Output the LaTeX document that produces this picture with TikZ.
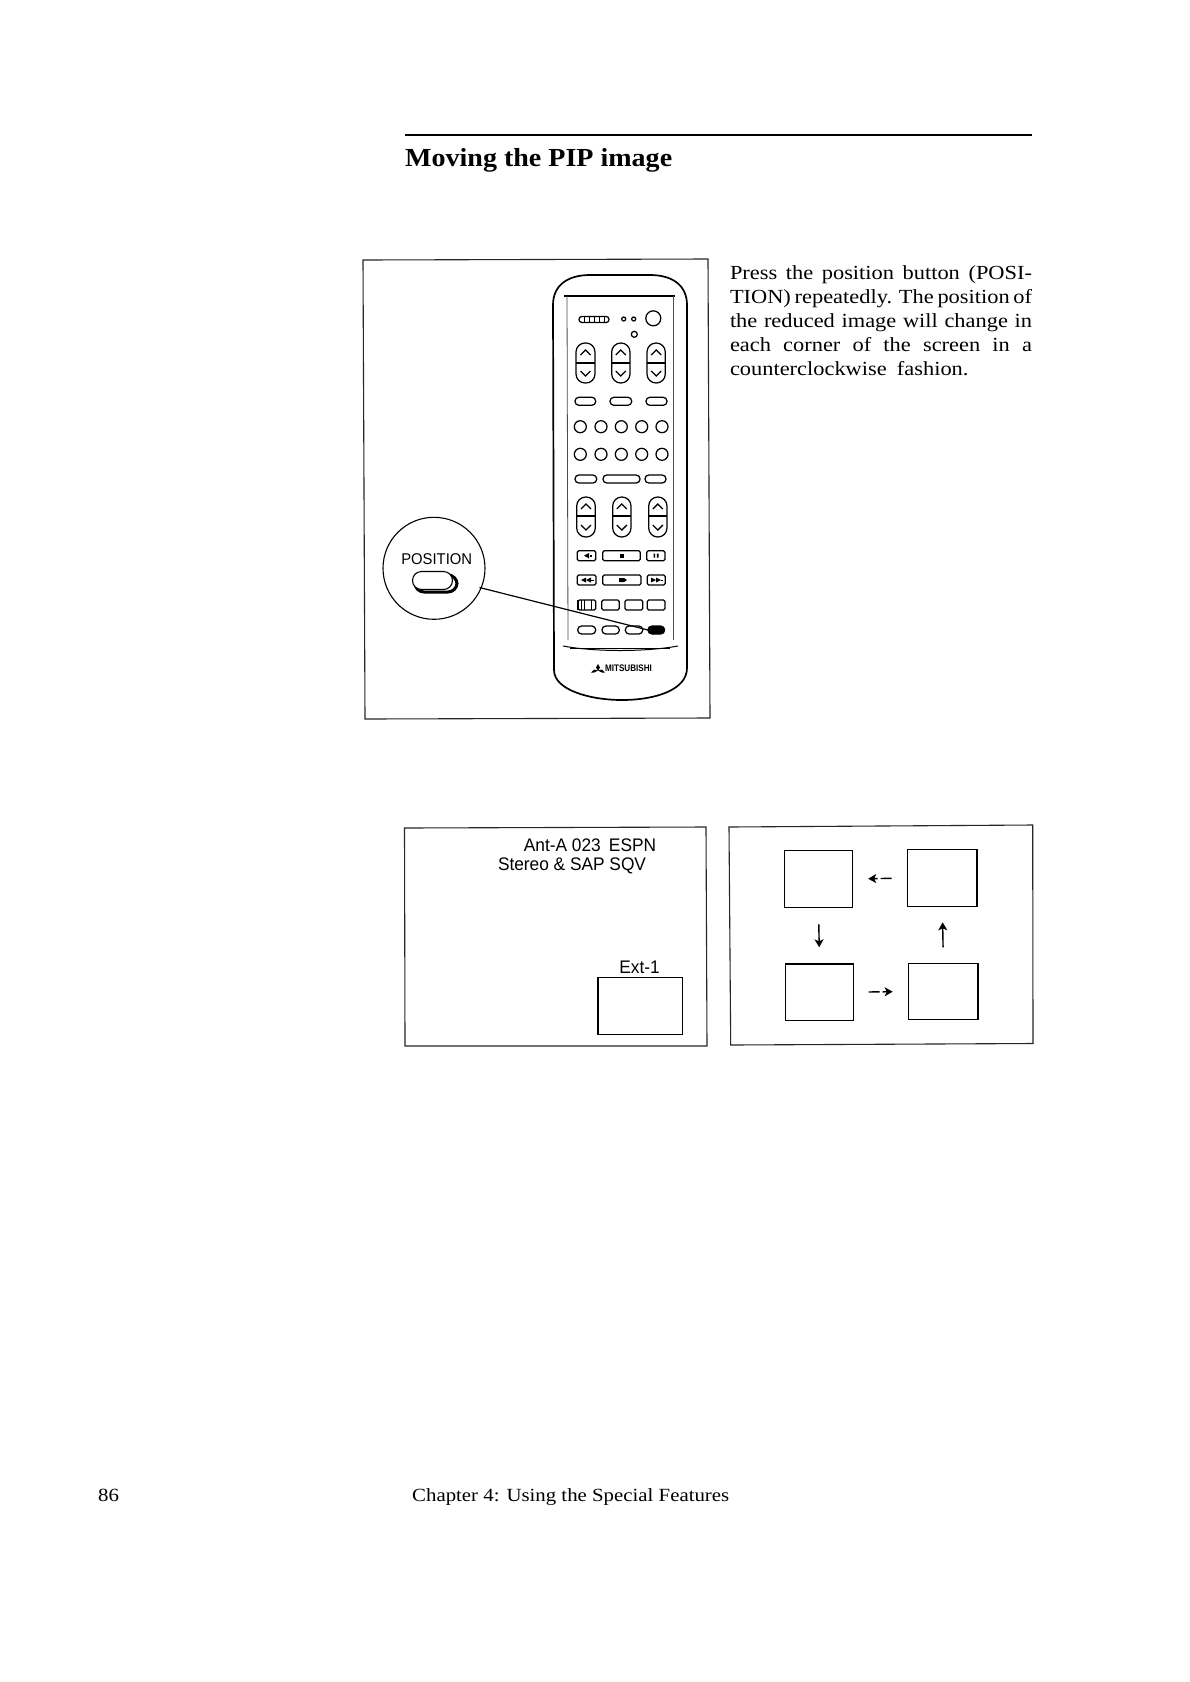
\documentclass[tikz,border=0pt]{standalone}
\usepackage{fontspec}
\setmainfont{Liberation Serif}
\newfontfamily\bodyfont[FakeStretch=1.12]{Liberation Serif}
\newfontfamily\titlefont[FakeStretch=1.078]{Liberation Serif}
\newfontfamily\sansf[FakeStretch=.95]{Liberation Sans}
\newcommand{\bx}[6][]{\node[pane,#1,minimum width={(#4-#2)*1pt},minimum height={(#5-#3)*1pt}] (#6) at ({(#2+#4)/2},{(#3+#5)/2}) {};}
\newcommand{\pill}[5][]{\draw[key,#1,rounded corners={#5/2*0.95}] ({#2},{#4-#5/2}) rectangle ({#3},{#4+#5/2});}
\newcommand{\sqkey}[4]{\draw[key,rounded corners=1.5] ({#1},{#3-#4/2}) rectangle ({#2},{#3+#4/2});}
\newcommand{\rocker}[5]{%
  \draw[key,rounded corners=9] (#1,#3) rectangle (#2,#4);
  \draw[line width=2.2pt] (#1,#5) -- (#2,#5);
  \draw[key] ({(#1+#2)/2-5},{#3+12}) -- ({(#1+#2)/2},{#3+7}) -- ({(#1+#2)/2+5},{#3+12});
  \draw[key] ({(#1+#2)/2-5},{#4-12}) -- ({(#1+#2)/2},{#4-7}) -- ({(#1+#2)/2+5},{#4-12});}
\usetikzlibrary{arrows.meta}
\tikzset{
  pane/.style={draw=black,line width=1.1pt,inner sep=0pt,outer sep=0pt,rectangle},
  frame/.style={draw=black!85,line width=1.1pt},
  key/.style={draw=black,line width=1.25pt},
  flow/.style={draw=black,line width=1.4pt,-{Stealth[length=8pt,width=9pt,inset=2pt]}},
  para/.style={anchor=base west,inner sep=0pt,outer sep=0pt,font=\bodyfont\fontsize{20}{24}\selectfont},
  sanslabel/.style={inner sep=0pt,outer sep=0pt,font=\sansf\fontsize{18.2}{22}\selectfont}
}
\begin{document}
\begin{tikzpicture}[x=1pt,y=-1pt]
\useasboundingbox[fill=white] (0,0) rectangle (1190,1682);
% heading
\coordinate (ruleL) at (405,135);
\coordinate (ruleR) at (1032,135);
\draw[line width=2pt] (ruleL) -- (ruleR);
\node[anchor=base west,inner sep=0pt,font=\titlefont\bfseries\fontsize{26}{30}\selectfont] (title) at (405,166) {Moving the PIP image};
% frame 1
\draw[frame] (363,260) -- (708,259) -- (710,718) -- (365,719) -- cycle;
% remote
\draw[line width=1.7pt] (553,305) .. controls (553,285) and (568,275) .. (590,275) -- (650,275) .. controls (672,275) and (687,285) .. (687,305) -- (687,668) .. controls (687,690) and (655,700) .. (622,700) .. controls (590,700) and (554,690) .. (554,670) -- cycle;
\draw[line width=1.1pt] (564,296) -- (675,296);
\draw[black!70,line width=.8pt] (567,296) -- (568,640);
\draw[black!70,line width=.8pt] (673,296) -- (673,640);
\draw[line width=1pt] (563,646) .. controls (595,652) and (645,652) .. (678,646);
\draw[line width=.8pt] (570,648) -- (670,648);
% top keys
\pill{579}{609}{319.5}{6}
\draw[line width=.7pt] (584,317) -- (584,322) (589,317) -- (589,322) (594,317) -- (594,322) (599,317) -- (599,322) (604,317) -- (604,322);
\draw[key] (623.7,319) circle (2);
\draw[key] (633.7,319) circle (2);
\draw[key] (634.3,334.3) circle (3);
\draw[key] (653.3,318.3) circle (7.5);
\rocker{576}{595}{343}{383}{363.3}
\rocker{611.7}{630}{343}{383}{363.3}
\rocker{647}{665.3}{343}{383}{363.3}
\pill{575}{595.7}{401.3}{8}
\pill{610}{631.7}{401.3}{8}
\pill{646}{667}{401.3}{8}
\foreach \cx in {580.3,601,621.3,641.7,662}{
  \draw[key] (\cx,426.7) circle (6);
  \draw[key] (\cx,454.3) circle (6);
}
\pill{575}{596.7}{479}{8}
\pill{603}{640}{479}{8}
\pill{645}{666}{479}{8}
\rocker{576.7}{595.3}{497}{537}{516}
\rocker{612.7}{631}{497}{537}{516}
\rocker{648.7}{667}{497}{537}{516}
% transport keys
\sqkey{577.3}{595.7}{555.7}{10}
\sqkey{602.7}{640.3}{555.7}{10}
\sqkey{646.7}{665}{555.7}{10}
\fill (584,555.7) -- (589,553) -- (589,558.4) -- cycle;
\fill (590,554.5) rectangle (592,557);
\fill (620,553.7) rectangle (623.5,557.7);
\fill (653.5,553.7) rectangle (655.2,557.7) (656.8,553.7) rectangle (658.5,557.7);
\sqkey{577.3}{596}{580}{10}
\sqkey{602.7}{641}{580}{10}
\sqkey{647.3}{665.3}{580}{10}
\fill (581,580) -- (586,577.5) -- (586,582.5) -- cycle;
\fill (586,580) -- (591,577.5) -- (591,582.5) -- cycle;
\draw[line width=.8pt] (591,580) -- (593.5,580);
\fill (619,578) -- (624,578) -- (627,580) -- (624,582) -- (619,582) -- cycle;
\fill (656,580) -- (651,577.5) -- (651,582.5) -- cycle;
\fill (661,580) -- (656,577.5) -- (656,582.5) -- cycle;
\draw[line width=.8pt] (661,580) -- (663,580);
\sqkey{578}{595.7}{605}{10}
\sqkey{601.7}{619.3}{605}{10}
\sqkey{625}{642.7}{605}{10}
\sqkey{647.3}{665}{605}{10}
\draw[line width=.9pt] (581,600) -- (581,610) (584,600) -- (584,610) (591,600) -- (591,610);
\draw[line width=1.4pt] (578,600) -- (578,610);
\pill{577.7}{595.7}{630}{8}
\pill{602}{619.3}{630}{8}
\pill{625.3}{642.7}{630}{8}
\node[pane,fill=black,rounded corners=3.8pt,minimum width=16.7pt,minimum height=8pt] (posKey) at (656.3,630) {};
% logo
\fill (598,664) -- (600,667.5) -- (598,671) -- (596,667.5) -- cycle;
\fill (598,670.5) -- (594.2,672.5) -- (591,672.5) -- (594,669.5) -- cycle;
\fill (598,670.5) -- (601.8,672.5) -- (605,672.5) -- (602,669.5) -- cycle;
\node[inner sep=0pt,font=\sansf\bfseries\fontsize{9.5}{10}\selectfont] (logo) at (628.5,668.7) {\scalebox{.9}[1]{MITSUBISHI}};
% callout
\node[circle,draw=black,line width=1.1pt,inner sep=0pt,minimum size=102pt] (callout) at (434,568.3) {};
\node[inner sep=0pt,font=\sansf\fontsize{15.6}{16}\selectfont] (posLabel) at (436.7,558.7) {POSITION};
\draw[line width=3pt,rounded corners=9pt] (415,575) rectangle (457,592);
\node[draw=black,fill=white,line width=1.1pt,rounded corners=9pt,inner sep=0pt,minimum width=40pt,minimum height=18pt] (calloutKey) at (432.5,580.5) {};
\draw[line width=1.2pt] (479.5,587.5) -- (posKey.west);
% paragraph
\node[para] (l1) at (730,279) {\makebox[302pt][s]{Press the position button (POSI-}};
\node[para] (l2) at (730,303) {\makebox[302pt][s]{TION) repeatedly. The position of}};
\node[para] (l3) at (730,327) {\makebox[302pt][s]{the reduced image will change in}};
\node[para] (l4) at (730,351) {\makebox[302pt][s]{each corner of the screen in a}};
\node[para] (l5) at (730,375) {\makebox[238.5pt][s]{counterclockwise fashion.}};
% box 2
\draw[frame] (404.5,828) -- (706,827) -- (707,1046) -- (405,1046) -- cycle;
\node[sanslabel] (ant) at (590,845.5) {Ant-A 023\hspace{.45em}ESPN};
\node[sanslabel] (stereo) at (572,866) {Stereo \& SAP SQV};
\node[sanslabel] (ext) at (639.5,967) {Ext-1};
\bx{598}{977.5}{682.5}{1034.5}{pip}
% box 3
\draw[frame] (729,827) -- (1032.7,825) -- (1033,1043.5) -- (730.7,1045) -- cycle;
\bx{784.3}{850.7}{852.7}{907.3}{tl}
\bx{907.7}{849.7}{977}{906.3}{tr}
\bx{785.3}{964}{853.7}{1020.3}{bl}
\bx{908.7}{963.3}{978}{1019.7}{br}
\draw[flow,dash pattern=on 11pt off 3pt on 30pt,shorten <=16pt,shorten >=15.5pt] (tr.west) -- (tl.east);
\draw[flow,shorten <=17pt,shorten >=16.7pt] (tl.south) -- (bl.north);
\draw[flow,dash pattern=on 11pt off 3pt on 30pt,shorten <=15pt,shorten >=16pt] (bl.east) -- (br.west);
\draw[flow,shorten <=16pt,shorten >=16pt] (br.north) -- (tr.south);
% footer
\node[anchor=base west,inner sep=0pt,font=\bodyfont\fontsize{18.6}{22}\selectfont] (page) at (98,1501) {86};
\node[anchor=base west,inner sep=0pt,font=\bodyfont\fontsize{18.6}{22}\selectfont] (chapter) at (412,1501) {Chapter 4: Using the Special Features};
\end{tikzpicture}
\end{document}
